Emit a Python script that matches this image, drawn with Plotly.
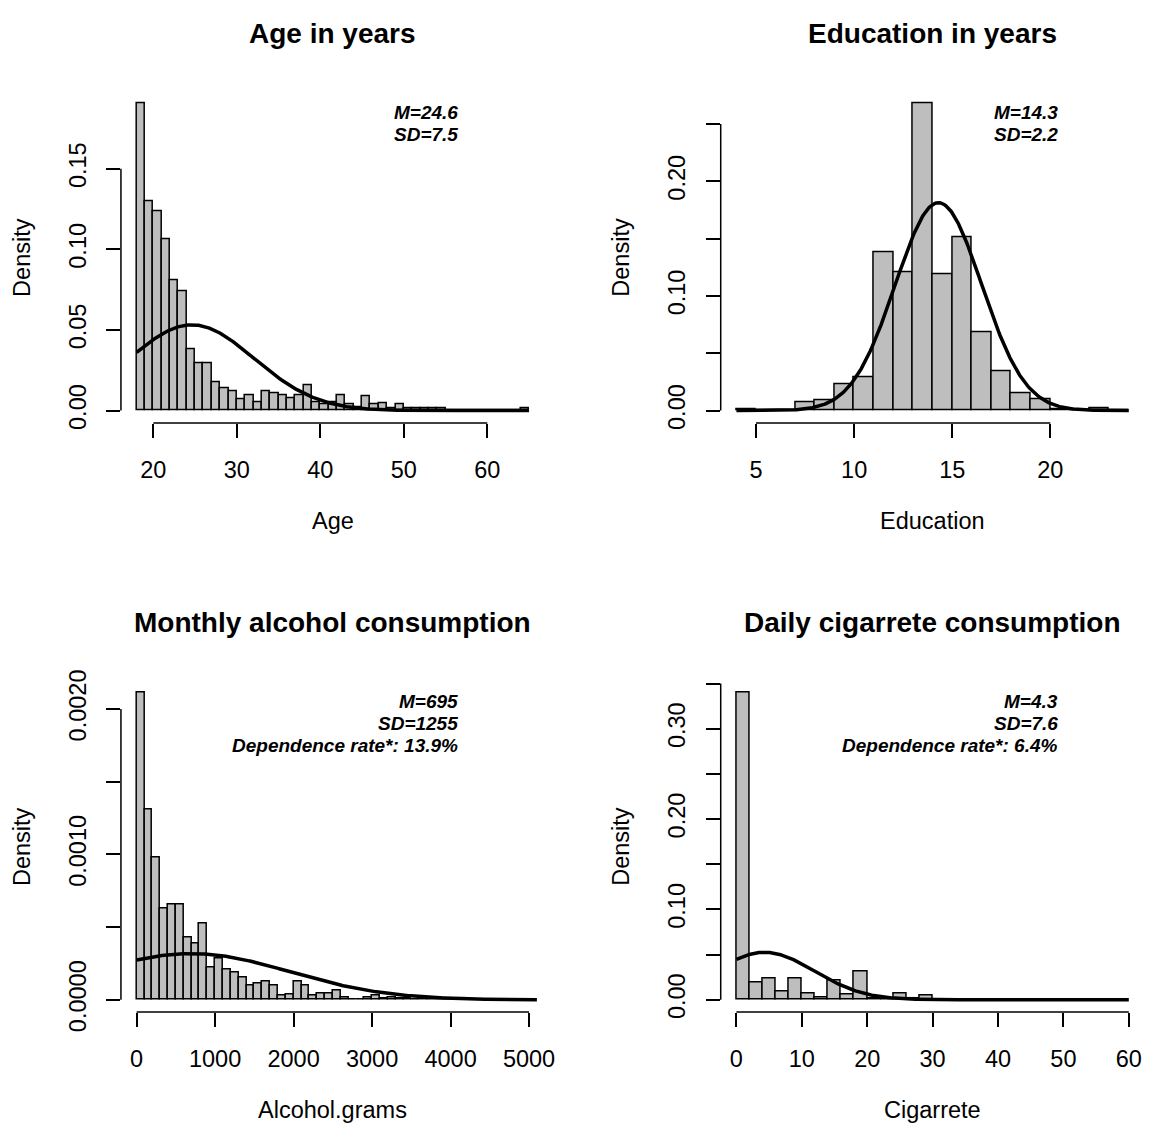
import numpy as np
import plotly.graph_objects as go

# ---------------- data ----------------
age_bin_start, age_bin_width = 18, 1
age_density = [0.1904, 0.1299, 0.1239, 0.1060, 0.0805, 0.0737, 0.0382, 0.0291, 0.0291, 0.0175,
               0.0141, 0.0121, 0.0070, 0.0093, 0.0052, 0.0121, 0.0107, 0.0093, 0.0078, 0.0093,
               0.0157, 0.0050, 0.0036, 0.0050, 0.0093, 0.0042, 0.0022, 0.0087, 0.0038, 0.0048,
               0.0016, 0.0042, 0.0016, 0.0016, 0.0016, 0.0016, 0.0016, 0, 0, 0,
               0, 0, 0, 0, 0, 0, 0.0016]
age_mean, age_sd = 24.6, 7.5
age_xlim = [18, 65]
age_xticks = [20, 30, 40, 50, 60]
age_yticks = [0.00, 0.05, 0.10, 0.15]
age_ylabels = ["0.00", "0.05", "0.10", "0.15"]
age_stats = ["M=24.6", "SD=7.5"]

edu_bin_start, edu_bin_width = 4, 1
edu_density = [0.0010, 0, 0.0005, 0.0068, 0.0092, 0.0229, 0.0288, 0.1384, 0.1209, 0.2678,
               0.1192, 0.1514, 0.0684, 0.0342, 0.0147, 0.0099, 0.0010, 0, 0.0017, 0.0005]
edu_mean, edu_sd = 14.3, 2.2
edu_xlim = [4, 24]
edu_xticks = [5, 10, 15, 20]
edu_yticks = [0.00, 0.05, 0.10, 0.15, 0.20, 0.25]
edu_ylabels = ["0.00", "", "0.10", "", "0.20", ""]
edu_stats = ["M=14.3", "SD=2.2"]

alc_bin_start, alc_bin_width = 0, 100
alc_density = [0.002112, 0.001308, 0.000978, 0.000625, 0.000658, 0.000658, 0.000429, 0.000384,
               0.000525, 0.000219, 0.000286, 0.000208, 0.000185, 0.000152, 0.000096, 0.000112,
               0.000125, 0.000100, 0.000029, 0.000036, 0.000125, 0.000100, 0.000030, 0.000040,
               0.000040, 0.000062, 0.000018, 0, 0, 0.000018, 0.000027, 0.000011, 0.000013,
               0.000007, 0.000007, 0.000004, 0.000007, 0.000004, 0, 0.000004, 0, 0.000009,
               0, 0, 0, 0, 0, 0, 0, 0, 0.000004]
alc_mean, alc_sd = 695, 1255
alc_xlim = [0, 5000]
alc_curve_end = 5100
alc_xticks = [0, 1000, 2000, 3000, 4000, 5000]
alc_yticks = [0.0000, 0.0005, 0.0010, 0.0015, 0.0020]
alc_ylabels = ["0.0000", "", "0.0010", "", "0.0020"]
alc_stats = ["M=695", "SD=1255", "Dependence rate*: 13.9%"]

cig_bin_start, cig_bin_width = 0, 2
cig_density = [0.3398, 0.0188, 0.0240, 0.0090, 0.0237, 0.0068, 0.0025, 0.0219, 0.0055, 0.0310,
               0.0010, 0, 0.0068, 0.0010, 0.0045, 0, 0, 0, 0, 0,
               0, 0, 0, 0, 0, 0, 0, 0, 0, 0.0007]
cig_mean, cig_sd = 4.3, 7.6
cig_xlim = [0, 60]
cig_xticks = [0, 10, 20, 30, 40, 50, 60]
cig_yticks = [0.00, 0.05, 0.10, 0.15, 0.20, 0.25, 0.30, 0.35]
cig_ylabels = ["0.00", "", "0.10", "", "0.20", "", "0.30", ""]
cig_stats = ["M=4.3", "SD=7.6", "Dependence rate*: 6.4%"]

titles = ["Age in years", "Education in years", "Monthly alcohol consumption", "Daily cigarrete consumption"]
xlabels = ["Age", "Education", "Alcohol.grams", "Cigarrete"]

# ---------------- layout (pixels) ----------------
W, H = 1155, 1144
COLS = [(122.0, 549.5), (727.0, 1154.5)]
ROWS = [(83.5, 424.0), (688.5, 1029.0)]
FONT = "Liberation Sans, Arial, Helvetica, sans-serif"
TICK_SIZE = 23.5
BAR_FILL = "#BEBEBE"

panels = [
    dict(start=age_bin_start, w=age_bin_width, dens=age_density, m=age_mean, sd=age_sd,
         xlim=age_xlim, cend=age_xlim[1], xt=age_xticks, yt=age_yticks, yl=age_ylabels,
         xtl=[str(v) for v in age_xticks], stats=age_stats, col=0, row=0),
    dict(start=edu_bin_start, w=edu_bin_width, dens=edu_density, m=edu_mean, sd=edu_sd,
         xlim=edu_xlim, cend=edu_xlim[1], xt=edu_xticks, yt=edu_yticks, yl=edu_ylabels,
         xtl=[str(v) for v in edu_xticks], stats=edu_stats, col=1, row=0),
    dict(start=alc_bin_start, w=alc_bin_width, dens=alc_density, m=alc_mean, sd=alc_sd,
         xlim=alc_xlim, cend=alc_curve_end, xt=alc_xticks, yt=alc_yticks, yl=alc_ylabels,
         xtl=[str(v) for v in alc_xticks], stats=alc_stats, col=0, row=1),
    dict(start=cig_bin_start, w=cig_bin_width, dens=cig_density, m=cig_mean, sd=cig_sd,
         xlim=cig_xlim, cend=cig_xlim[1], xt=cig_xticks, yt=cig_yticks, yl=cig_ylabels,
         xtl=[str(v) for v in cig_xticks], stats=cig_stats, col=1, row=1),
]

fig = go.Figure()
layout = dict(width=W, height=H, margin=dict(l=0, r=0, t=0, b=0),
              paper_bgcolor="white", plot_bgcolor="white", showlegend=False,
              font=dict(family=FONT, color="black"))
annotations = []
shapes = []

for i, p in enumerate(panels, start=1):
    sfx = "" if i == 1 else str(i)
    xa, ya = "x" + sfx, "y" + sfx
    dens = np.array(p["dens"], dtype=float)
    centers = p["start"] + (np.arange(len(dens)) + 0.5) * p["w"]
    fig.add_trace(go.Bar(x=centers, y=dens, width=p["w"], xaxis=xa, yaxis=ya,
                         marker=dict(color=BAR_FILL, line=dict(color="black", width=1.5)),
                         hoverinfo="skip"))
    xs = np.linspace(p["xlim"][0], p["cend"], 400)
    ys = np.exp(-0.5 * ((xs - p["m"]) / p["sd"]) ** 2) / (p["sd"] * np.sqrt(2 * np.pi))
    fig.add_trace(go.Scatter(x=xs, y=ys, mode="lines", xaxis=xa, yaxis=ya,
                             line=dict(color="black", width=3.5), hoverinfo="skip"))

    x0, x1 = p["xlim"]
    dx = 0.04 * (x1 - x0)
    ymax = dens.max()
    L, R = COLS[p["col"]]
    T, B = ROWS[p["row"]]
    common = dict(showgrid=False, zeroline=False, showline=False, ticks="outside",
                  ticklen=14, tickwidth=1.5, tickcolor="black",
                  tickfont=dict(size=TICK_SIZE, family=FONT, color="black"))
    layout["xaxis" + sfx] = dict(domain=[L / W, R / W], range=[x0 - dx, x1 + dx],
                                 tickvals=p["xt"], ticktext=p["xtl"], anchor=ya,
                                 ticklabelstandoff=12, **common)
    layout["yaxis" + sfx] = dict(domain=[1 - B / H, 1 - T / H], range=[-0.04 * ymax, 1.04 * ymax],
                                 tickvals=p["yt"], ticktext=p["yl"], anchor=xa,
                                 tickangle=-90, ticklabelstandoff=11, **common)
    # R-style axis lines spanning first..last tick
    shapes.append(dict(type="line", xref=xa, yref=ya + " domain", x0=p["xt"][0], x1=p["xt"][-1],
                       y0=0, y1=0, line=dict(color="black", width=1.5), layer="above"))
    shapes.append(dict(type="line", xref=xa + " domain", yref=ya, x0=0, x1=0,
                       y0=p["yt"][0], y1=p["yt"][-1], line=dict(color="black", width=1.5), layer="above"))

    cx = (L + R) / 2
    cy = (T + B) / 2
    annotations.append(dict(text="<b>" + titles[i - 1] + "</b>", xref="paper", yref="paper",
                            x=cx / W, y=1 - (T - 59) / H, xanchor="center", yanchor="middle",
                            showarrow=False, font=dict(size=28, family=FONT, color="black")))
    annotations.append(dict(text=xlabels[i - 1], xref="paper", yref="paper",
                            x=cx / W, y=1 - (B + 101) / H, xanchor="center", yanchor="middle",
                            showarrow=False, font=dict(size=TICK_SIZE, family=FONT, color="black")))
    annotations.append(dict(text="Density", xref="paper", yref="paper", textangle=-90,
                            x=(L - 100) / W, y=1 - cy / H, xanchor="center", yanchor="middle",
                            showarrow=False, font=dict(size=TICK_SIZE, family=FONT, color="black")))
    sx = L + 342
    for k, s in enumerate(p["stats"]):
        annotations.append(dict(text="<b><i>" + s + "</i></b>", xref="paper", yref="paper",
                                x=sx / W, y=1 - (T + 22 + 22.5 * k) / H, xanchor="right",
                                yanchor="middle", showarrow=False,
                                font=dict(size=19, family=FONT, color="black")))

layout["annotations"] = annotations
layout["shapes"] = shapes
layout["bargap"] = 0
fig.update_layout(**layout)
fig.write_html("out.html")
